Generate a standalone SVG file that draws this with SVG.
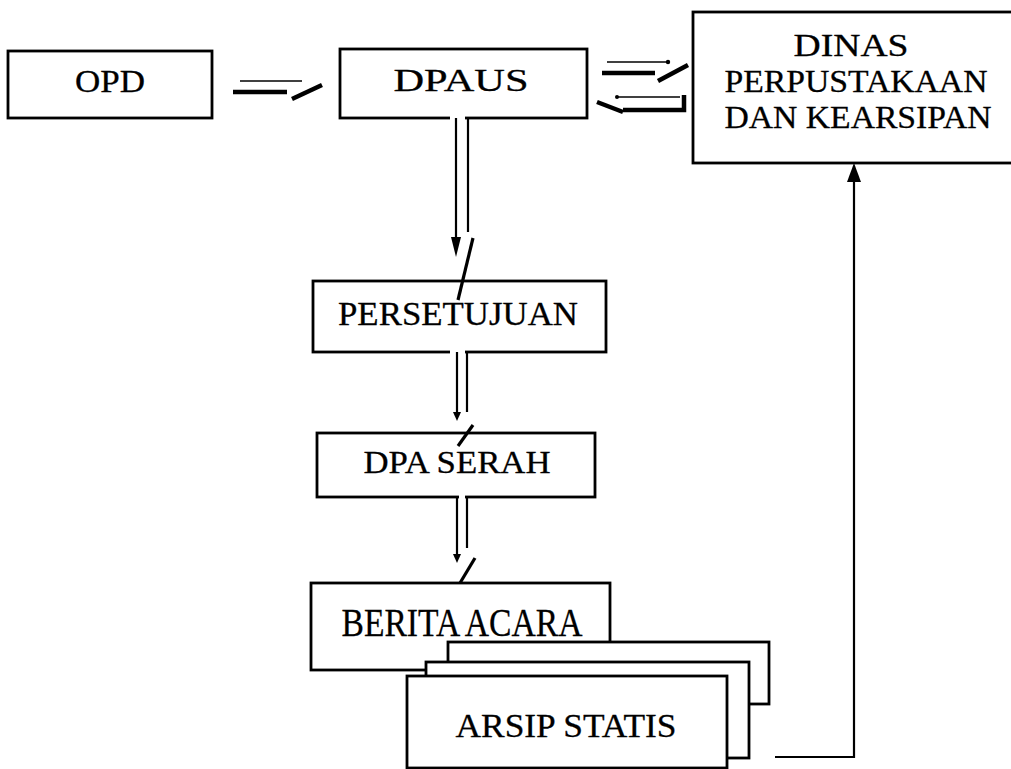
<svg xmlns="http://www.w3.org/2000/svg" width="1011" height="769" viewBox="0 0 1011 769">
<style>
.box{fill:#fff;stroke:#000;stroke-width:2.8}
.t{font-family:"Liberation Serif","DejaVu Serif",serif;fill:#000;stroke:#000;stroke-width:0.3;text-anchor:middle}
.thin{stroke:#000;stroke-width:1.6;fill:none}
.thick{stroke:#000;stroke-width:4.5;fill:none}
.bar{stroke:#000;stroke-width:3.2;fill:none}
.vl{stroke:#000;stroke-width:2.2;fill:none}
.gap{stroke:#fff;stroke-width:4;fill:none}
</style>
<rect width="1011" height="769" fill="#fff"/>
<g id="opd"><rect class="box" x="8" y="51" width="204" height="67"/><text class="t" x="110" y="92" font-size="31" textLength="70" lengthAdjust="spacingAndGlyphs">OPD</text></g>
<g id="dpaus"><rect class="box" x="340" y="49" width="247" height="69"/><text class="t" x="461" y="91" font-size="32" textLength="135" lengthAdjust="spacingAndGlyphs">DPAUS</text></g>
<g id="dinas"><rect class="box" x="693" y="12" width="325" height="151"/>
<text class="t" x="851" y="56" font-size="32" textLength="115" lengthAdjust="spacingAndGlyphs">DINAS</text>
<text class="t" x="856" y="92" font-size="32" textLength="263" lengthAdjust="spacingAndGlyphs">PERPUSTAKAAN</text>
<text class="t" x="858" y="128" font-size="32" textLength="267" lengthAdjust="spacingAndGlyphs">DAN KEARSIPAN</text></g>
<g id="persetujuan"><rect class="box" x="313" y="281" width="293" height="71"/><text class="t" x="458" y="325" font-size="34" textLength="240" lengthAdjust="spacingAndGlyphs">PERSETUJUAN</text></g>
<g id="dpa-serah"><rect class="box" x="317" y="433" width="278" height="64"/><text class="t" x="457" y="473" font-size="32" textLength="187" lengthAdjust="spacingAndGlyphs">DPA SERAH</text></g>
<g id="berita-acara"><rect class="box" x="311" y="583" width="299" height="87"/><text class="t" x="462" y="636" font-size="41" textLength="241" lengthAdjust="spacingAndGlyphs">BERITA ACARA</text></g>
<g id="arsip-statis">
<rect class="box" x="448" y="642" width="321" height="62"/>
<rect class="box" x="426" y="662" width="323" height="96"/>
<rect class="box" x="407" y="676" width="320" height="92"/>
<text class="t" x="566" y="737" font-size="34" textLength="221" lengthAdjust="spacingAndGlyphs">ARSIP STATIS</text></g>
<g id="connectors">
<path class="thin" d="M240 81H302"/>
<path class="thick" d="M233 92H287"/>
<path class="thick" d="M292 99L322 85"/>
<path class="thin" d="M607 62H668"/><circle cx="668" cy="62" r="2.2"/>
<path class="thick" d="M602 73H655"/>
<path class="thick" d="M658 81L688 65"/>
<path class="thin" d="M617 97H680"/><circle cx="617" cy="97" r="2"/>
<path class="thick" d="M623 110H684V95"/>
<path class="thick" d="M597 102L623 112"/>
<path class="gap" d="M450 118H465M450 352H465M459 497H465"/>
<path class="vl" d="M456 118V240M468 118V232"/>
<polygon points="451,237 461,237 456,257"/>
<path class="bar" d="M473 238L458 300"/>
<path class="vl" d="M457 352V414M467 352V412"/>
<polygon points="453,412 461,412 457,421"/>
<path class="bar" d="M473 425L458 446"/>
<path class="vl" d="M457 497V556M467 497V548"/>
<polygon points="453,554 461,554 457,563"/>
<path class="bar" d="M475 558L460 583"/>
<path class="vl" d="M775 757H854V180"/>
<polygon points="854,163 847,182 861,182"/>
</g>
</svg>
